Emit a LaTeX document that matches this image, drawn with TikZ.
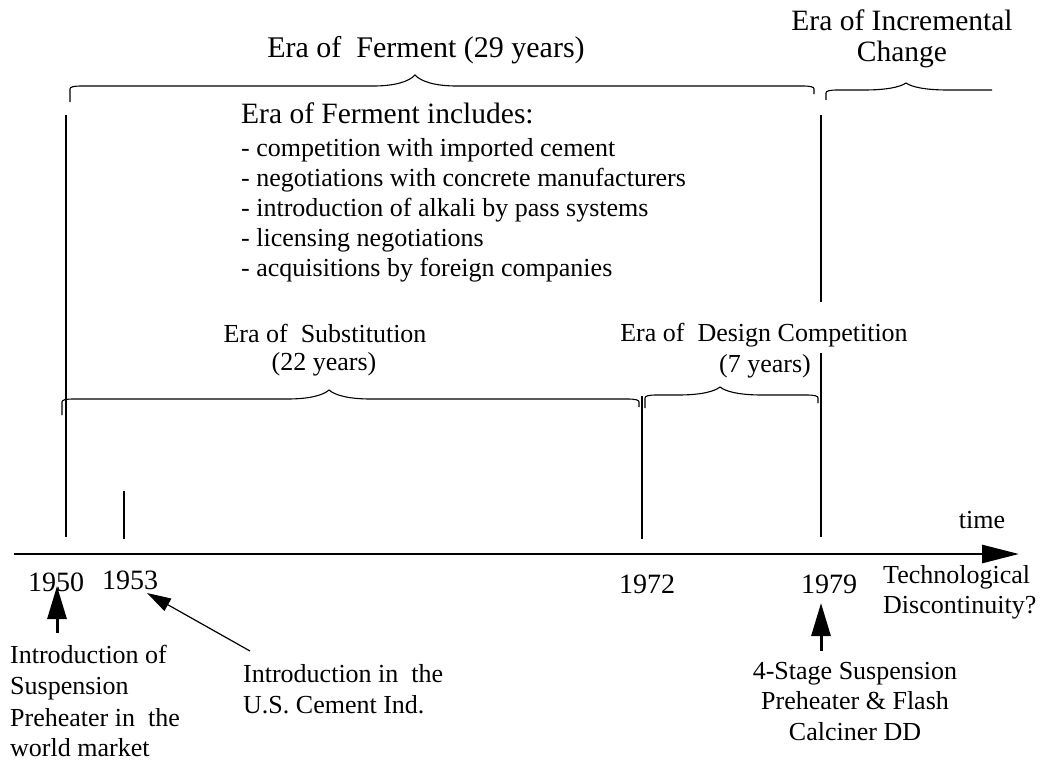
\documentclass[tikz,border=0pt]{standalone}
\usepackage{fontspec}
\setmainfont{Liberation Serif}
\usetikzlibrary{arrows.meta}
% #1 left x, #2 tip x, #3 right x, #4 y, #5 left drop, #6 right drop, #7 tip height
\newcommand{\hbr}[7]{%
  \draw[bracestyle] (#1,#4+#5) -- (#1,#4+3) .. controls (#1,#4+1) and (#1+3,#4) .. (#1+12,#4)
    -- (#2-42,#4) .. controls (#2-20,#4) and (#2-6,#4-#7*0.4) .. (#2,#4-#7)
    .. controls (#2+6,#4-#7*0.4) and (#2+20,#4) .. (#2+42,#4)
    -- (#3-12,#4) .. controls (#3-3,#4) and (#3,#4+1) .. (#3,#4+3) -- (#3,#4+#6);}
% same, but plain right end
\newcommand{\hbrr}[6]{%
  \draw[bracestyle] (#1,#4+#5) -- (#1,#4+3) .. controls (#1,#4+1) and (#1+3,#4) .. (#1+12,#4)
    -- (#2-42,#4) .. controls (#2-20,#4) and (#2-6,#4-#6*0.4) .. (#2,#4-#6)
    .. controls (#2+6,#4-#6*0.4) and (#2+20,#4) .. (#2+42,#4)
    -- (#3,#4);}
\begin{document}
\begin{tikzpicture}[x=1pt,y=-1pt,
  bracestyle/.style={line width=1.1pt,black},
  vline/.style={line width=2.4pt,black},
  big/.style={inner sep=0pt,font=\fontsize{30}{30}\selectfont},
  mid/.style={inner sep=0pt,font=\fontsize{29.5}{29.5}\selectfont},
  txt/.style={inner sep=0pt,font=\fontsize{26}{26}\selectfont},
  yr/.style={inner sep=0pt,font=\fontsize{28}{28}\selectfont},
  bigarrow/.style={line width=3pt,-{Triangle[length=33pt,width=19pt]}},
  thinarrow/.style={line width=1.2pt,-{Triangle[length=24pt,width=14pt]}}]
\useasboundingbox (0,0) rectangle (1043,763);

% headings
\node[big,anchor=base] (ferment) at (426,57) {Era of\ \ Ferment (29 years)};
\node[mid,anchor=base] (incr1) at (902,30) {Era of Incremental};
\node[mid,anchor=base] (incr2) at (902,61) {Change};

% list
\node[mid,anchor=base west] (inc) at (241,123) {Era of Ferment includes:};
\node[txt,anchor=base west] (l1) at (241,156) {- competition with imported cement};
\node[txt,anchor=base west] (l2) at (241,186) {- negotiations with concrete manufacturers};
\node[txt,anchor=base west] (l3) at (241,216) {- introduction of alkali by pass systems};
\node[txt,anchor=base west] (l4) at (241,246) {- licensing negotiations};
\node[txt,anchor=base west] (l5) at (241,276) {- acquisitions by foreign companies};

% middle headings
\node[txt,anchor=base] (sub1) at (325,342) {Era of\ \ Substitution};
\node[txt,anchor=base] (sub2) at (324,370) {(22 years)};
\node[txt,anchor=base] (des1) at (764,341) {Era of\ \ Design Competition};
\node[txt,anchor=base] (des2) at (765,372) {(7 years)};

% braces
\hbr{70}{415}{814}{86}{16}{8}{11}
\hbrr{826}{906}{992}{90}{10}{7}
\hbr{62}{329}{639}{399}{16}{8}{9}
\hbr{645}{720}{818}{395}{13}{8}{8}

% vertical lines
\coordinate (a1) at (66,115); \coordinate (a2) at (66,537);
\coordinate (b1) at (124,491); \coordinate (b2) at (124,539);
\coordinate (c1) at (642,396); \coordinate (c2) at (642,539);
\coordinate (d1) at (821,115); \coordinate (d2) at (821,302);
\coordinate (d3) at (821,353); \coordinate (d4) at (821,537);
\draw[vline] (a1) -- (a2);
\draw[vline] (b1) -- (b2);
\draw[vline] (c1) -- (c2);
\draw[vline] (d1) -- (d2);
\draw[vline] (d3) -- (d4);

% time axis
\coordinate (ax0) at (14,554);
\coordinate (ax1) at (1019,554);
\draw[line width=2.8pt,-{Triangle[length=37pt,width=18pt]}] (ax0) -- (ax1);
\node[txt,anchor=base] (time) at (982,528) {time};

% years
\node[yr,anchor=base] (y1950) at (56,591) {1950};
\node[yr,anchor=base] (y1953) at (130,589) {1953};
\node[yr,anchor=base] (y1972) at (647,593) {1972};
\node[yr,anchor=base] (y1979) at (829,593) {1979};

\node[txt,anchor=base west] (tech1) at (883,583) {Technological};
\node[txt,anchor=base west] (tech2) at (883,613) {Discontinuity?};

% bottom notes
\node[txt,anchor=base west] (i1) at (10,663) {Introduction of};
\node[txt,anchor=base west] (i2) at (10,694) {Suspension};
\node[txt,anchor=base west] (i3) at (10,726) {Preheater in\ \ the};
\node[txt,anchor=base west] (i4) at (10,756) {world market};

\node[txt,anchor=base west] (u1) at (243,682) {Introduction in\ \ the};
\node[txt,anchor=base west] (u2) at (243,713) {U.S. Cement Ind.};

\node[txt,anchor=base] (s1) at (855,679) {4-Stage Suspension};
\node[txt,anchor=base] (s2) at (855,709) {Preheater \& Flash};
\node[txt,anchor=base] (s3) at (855,740) {Calciner DD};

% arrows
\coordinate (p1t) at (57,633); \coordinate (p1h) at (57,586);
\coordinate (p2t) at (250,651); \coordinate (p2h) at (147,593);
\coordinate (p3t) at (821,651); \coordinate (p3h) at (821,603);
\draw[bigarrow] (p1t) -- (p1h);
\draw[thinarrow] (p2t) -- (p2h);
\draw[bigarrow] (p3t) -- (p3h);
\end{tikzpicture}
\end{document}
